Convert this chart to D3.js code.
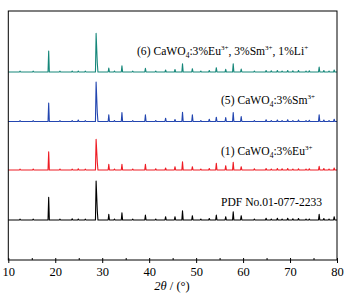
<!DOCTYPE html>
<html><head><meta charset="utf-8">
<script src="https://cdn.jsdelivr.net/npm/d3@7"></script>
<style>body{margin:0;background:#fff}svg{display:block}text{font-family:"Liberation Serif","Times New Roman",serif}</style>
</head><body><div id="c"></div>
<script>
// 2θ positions of diffraction peaks (degrees)
const peakPos = [12.5,15.3,18.6,21.0,23.6,24.9,26.4,28.7,28.95,31.4,32.6,34.2,36.5,39.2,41.4,43.5,45.5,47.1,49.2,51.0,52.8,54.3,56.3,57.9,59.6,62.4,64.9,66.0,67.3,68.3,69.5,70.6,71.8,73.4,74.1,76.2,77.2,78.3,79.4];
// relative intensities (a.u.) per sample, same order as peakPos
const intPDF  = [0.8,0.8,22.7,0.8,1.2,1.0,0.8,39,9.3,5.7,1.0,7.3,0.8,5.0,1.0,3.3,3.3,9.3,4.3,1.0,1.5,5.0,3.3,8.3,4.3,1.0,1.7,1.0,1.7,1.0,1.7,1.2,1.5,1.0,1.0,5.7,1.5,1.0,3.3];
const intEu   = [0.8,1.0,18.3,1.0,0.8,1.2,0.8,30.7,8.0,5.7,1.0,5.7,1.0,5.7,1.2,2.0,3.3,8.3,3.3,1.0,1.5,6.7,4.3,7.7,3.3,1.2,1.5,1.0,1.5,1.2,1.5,1.0,1.2,1.0,1.2,3.7,1.5,1.0,2.0];
const intSm   = [0.8,0.8,18.4,0.8,1.0,1.5,0.8,39.5,9.0,6.7,1.0,9.0,0.8,6.7,1.0,3.3,2.0,9.3,6.7,1.0,2.3,4.3,4.0,9.0,5.0,1.0,1.7,1.0,1.5,1.0,1.7,1.0,1.5,1.0,1.2,6.7,1.5,1.0,2.3];
const intEuSmLi = [0.8,0.8,21.0,0.8,1.0,1.0,0.8,38.6,9.0,4.0,1.0,6.3,0.8,3.7,1.0,2.0,2.5,8.3,3.3,1.0,1.5,4.3,2.7,8.3,3.0,1.0,1.5,1.2,1.5,1.0,1.5,1.2,1.5,1.0,1.2,5.0,1.5,1.0,2.0];
// vertical stacking offsets (a.u.)
const offsets = [40, 90, 138.5, 188];
const seriesColors = ["#000000","#ee1c24","#2346b0","#16877a"];
const seriesData = [intPDF, intEu, intSm, intEuSmLi];
const xTicks = [10,20,30,40,50,60,70,80];
const xMinor = [15,25,35,45,55,65,75];

const W=356,H=297, L=8.3, R=337, T=11, B=260;
const svg=d3.select("#c").append("svg").attr("width",W).attr("height",H);
const x=d3.scaleLinear().domain([10,80]).range([L,R]);
const y=d3.scaleLinear().domain([0,249]).range([B,T]);

const hw=0.14;
function pts(ints, off){
  const p=[[10,off]];
  peakPos.forEach((pos,i)=>{
    const prev=peakPos[i-1], next=peakPos[i+1];
    if(!(prev!==undefined && pos-prev<2*hw)) p.push([pos-hw,off]);
    p.push([pos,off+ints[i]]);
    if(!(next!==undefined && next-pos<2*hw)) p.push([pos+hw,off]);
  });
  p.push([80,off]);
  return p;
}
const line=d3.line().x(d=>x(d[0])).y(d=>y(d[1]));
const g=svg.append("g");
seriesData.forEach((s,i)=>{
  g.append("path").attr("d",line(pts(s,offsets[i]))).attr("fill","none")
   .attr("stroke",seriesColors[i]).attr("stroke-width",1.1).attr("stroke-linejoin","round");
});

// frame
svg.append("rect").attr("x",L).attr("y",T).attr("width",R-L).attr("height",B-T)
  .attr("fill","none").attr("stroke","#000").attr("stroke-width",1);

const ax=svg.append("g").attr("transform",`translate(0,${B})`)
  .call(d3.axisBottom(x).tickValues(xTicks).tickSize(3).tickSizeOuter(0).tickPadding(4).tickFormat(d3.format("d")));
ax.select(".domain").remove();
ax.selectAll("text").attr("font-size",12.5).attr("font-family","Liberation Serif").attr("fill","#000");
ax.selectAll("line").attr("y1",-2);
svg.append("g").attr("transform",`translate(0,${B})`)
  .call(d3.axisBottom(x).tickValues(xMinor).tickSize(-2).tickFormat(""))
  .select(".domain").remove();

// axis title
const tt=svg.append("text").attr("x",172).attr("y",290).attr("text-anchor","middle").attr("font-size",12.5);
tt.append("tspan").attr("font-style","italic").text("2θ");
tt.append("tspan").text(" / (°)");

// labels
function label(xp,yp,parts){
  const t=svg.append("text").attr("x",xp).attr("y",yp).attr("font-size",11.6).attr("fill","#000");
  let cur=0;
  parts.forEach(pt=>{
    const s=t.append("tspan").text(pt[0]);
    let want=0;
    if(pt[1]==="sub"){s.attr("font-size",7.5);want=3;}
    if(pt[1]==="sup"){s.attr("font-size",7);want=-5;}
    if(want-cur!==0) s.attr("dy",want-cur);
    cur=want;
  });
}
label(137,55,[["(6) CaWO"],["4","sub"],[":3%Eu"],["3+","sup"],[", 3%Sm"],["3+","sup"],[", 1%Li"],["+","sup"]]);
label(221,104,[["(5) CaWO"],["4","sub"],[":3%Sm"],["3+","sup"]]);
label(221,155,[["(1) CaWO"],["4","sub"],[":3%Eu"],["3+","sup"]]);
label(221,206,[["PDF No.01-077-2233"]]);
</script></body></html>
